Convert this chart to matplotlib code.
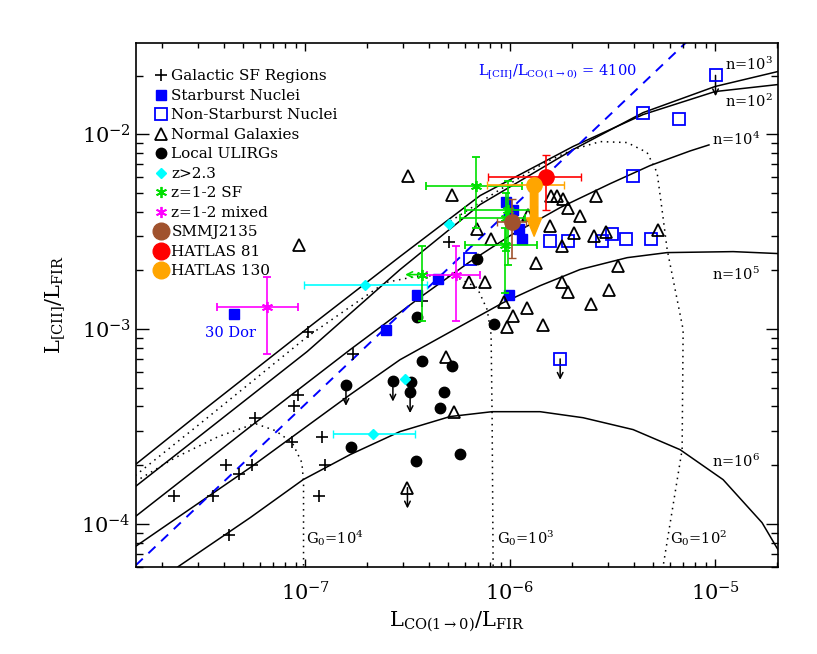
import numpy as np
import matplotlib
matplotlib.use("Agg")
import matplotlib.pyplot as plt
from matplotlib.lines import Line2D

plt.rcParams["font.family"] = ["DejaVu Serif"]
plt.rcParams["mathtext.fontset"] = "dejavuserif"

# everything below is log10 of the ratio

# Galactic SF regions
sf_logx = [-6.987, -6.769, -7.033, -7.054, -7.244, -7.062, -6.919, -7.387, -7.260,
           -7.322, -6.902, -7.640, -7.450, -6.932, -7.374, -6.431, -6.300]
sf_logy = [-3.017, -3.127, -3.337, -3.398, -3.457, -3.582, -3.555, -3.700, -3.700,
           -3.745, -3.700, -3.856, -3.856, -3.856, -4.058, -2.855, -2.553]

# starburst nuclei (first one is 30 Dor)
sb_logx = [-7.346, -6.606, -6.455, -6.353, -6.008, -6.020, -5.987, -5.956, -5.940]
sb_logy = [-2.921, -3.004, -2.827, -2.746, -2.824, -2.350, -2.387, -2.485, -2.538]

# non-starburst nuclei
nsb_logx = [-4.998, -5.350, -5.174, -5.399, -5.805, -5.716, -5.553, -5.504, -5.436,
            -5.314, -6.195, -5.756]
nsb_logy = [-1.698, -1.891, -1.921, -2.213, -2.550, -2.550, -2.550, -2.511, -2.538,
            -2.538, -2.639, -3.154]
nsb_limit = [True, False, False, False, False, False, False, False, False, False, False, True]

# normal galaxies
ng_logx = [-6.496, -6.284, -7.029, -6.162, -6.094, -5.911, -5.801, -5.772, -5.740,
           -5.716, -5.659, -5.580, -5.805, -5.688, -5.589, -5.533, -5.281, -5.745,
           -5.873, -5.472, -6.200, -6.122, -5.748, -5.716, -5.520, -6.029, -5.919,
           -5.984, -6.013, -5.838, -5.605, -6.314, -6.273, -6.501]
ng_logy = [-2.213, -2.310, -2.567, -2.486, -2.538, -2.413, -2.319, -2.319, -2.332,
           -2.379, -2.422, -2.319, -2.469, -2.507, -2.524, -2.504, -2.490, -2.576,
           -2.659, -2.678, -2.761, -2.761, -2.761, -2.810, -2.802, -2.863, -2.892,
           -2.935, -2.992, -2.978, -2.872, -3.146, -3.428, -3.815]
ng_limit = [False] * 33 + [True]

# local ULIRGs
ul_logx = [-6.452, -6.431, -6.284, -6.801, -6.572, -6.486, -6.488, -6.323, -6.342,
           -6.774, -6.460, -6.244, -6.077, -6.160]
ul_logy = [-2.940, -3.166, -3.188, -3.288, -3.266, -3.272, -3.325, -3.326, -3.406,
           -3.606, -3.680, -3.643, -2.976, -2.639]
ul_limit = [False, False, False, True, True, False, True, False, False,
            False, False, False, False, False]

# z > 2.3
hz_logx = [-6.707, -6.667, -6.512, -6.298]
hz_logy = [-2.772, -3.538, -3.257, -2.461]
hz_xlo = [-7.008, -6.862, -6.512, -6.298]
hz_xhi = [-6.406, -6.463, -6.512, -6.298]

# z = 1-2 star forming
sfz_logx = [-6.167, -6.010, -6.020, -6.024, -6.431]
sfz_logy = [-2.268, -2.387, -2.428, -2.567, -2.721]
sfz_xlo = [-6.410, -6.220, -6.244, -6.220, -6.431]
sfz_xhi = [-5.943, -5.868, -5.927, -5.868, -6.431]
sfz_ylo = [-2.480, -2.670, -2.600, -2.814, -2.961]
sfz_yhi = [-2.117, -2.242, -2.300, -2.480, -2.576]

# z = 1-2 mixed
mx_logx = [-7.187, -6.265]
mx_logy = [-2.887, -2.721]
mx_xlo = [-7.428, -6.406]
mx_xhi = [-7.033, -6.146]
mx_ylo = [-3.127, -2.961]
mx_yhi = [-2.735, -2.572]

# SMMJ2135, HATLAS 81, HATLAS 130
smm = dict(x=-5.992, y=-2.452, xlo=-6.062, xhi=-5.922, ylo=-2.635, yhi=-2.332)
h81 = dict(x=-5.826, y=-2.221, xlo=-6.106, xhi=-5.655, ylo=-2.391, yhi=-2.105)
h130 = dict(x=-5.883, y=-2.262, xlo=-6.111, xhi=-5.735, ytip=-2.524)

# PDR model tracks: constant density
n2_logx = [-7.829, -7.512, -6.990, -6.537, -6.146, -5.693, -5.351, -5.000, -4.693]
n2_logy = [-3.697, -3.430, -2.998, -2.628, -2.315, -2.063, -1.899, -1.781, -1.745]
n3_logx = [-7.829, -7.512, -6.990, -6.537, -6.146, -5.693, -5.351, -5.000, -4.693]
n3_logy = [-3.810, -3.548, -3.116, -2.695, -2.361, -2.079, -1.889, -1.755, -1.678]
n4_logx = [-7.829, -7.268, -6.780, -6.434, -6.195, -6.000, -5.756, -5.512, -5.317, -5.122, -5.030]
n4_logy = [-3.964, -3.502, -3.106, -2.834, -2.654, -2.521, -2.377, -2.254, -2.161, -2.086, -2.055]
n5_logx = [-7.829, -7.268, -6.780, -6.537, -6.220, -6.034, -5.854, -5.659, -5.429, -5.234, -4.912, -4.693]
n5_logy = [-4.118, -3.712, -3.337, -3.158, -2.973, -2.865, -2.778, -2.695, -2.634, -2.608, -2.603, -2.613]
n6_logx = [-7.620, -7.268, -7.010, -6.780, -6.537, -6.293, -6.088, -5.854, -5.644, -5.400,
           -5.171, -4.961, -4.771, -4.693]
n6_logy = [-4.221, -3.969, -3.774, -3.645, -3.527, -3.450, -3.425, -3.425, -3.456, -3.517,
           -3.620, -3.774, -3.995, -4.134]

# constant G0
g2_logx = [-6.317, -6.049, -5.829, -5.693, -5.561, -5.429, -5.332, -5.283, -5.259, -5.234,
           -5.156, -5.161, -5.254]
g2_logy = [-2.464, -2.284, -2.145, -2.079, -2.038, -2.043, -2.094, -2.197, -2.387, -2.592,
           -3.004, -3.620, -4.221]
g3_logx = [-7.829, -7.512, -6.990, -6.610, -6.439, -6.268, -6.161, -6.112, -6.093, -6.088, -6.083]
g3_logy = [-3.753, -3.486, -3.040, -2.762, -2.726, -2.731, -2.788, -2.901, -3.029, -3.450, -4.221]
g4_logx = [-7.829, -7.634, -7.424, -7.244, -7.146, -7.063, -7.016, -7.008, -7.008]
g4_logy = [-3.784, -3.661, -3.553, -3.486, -3.522, -3.584, -3.687, -3.789, -4.221]

cii_co_ratio = 4100
xlim = (1.49e-8, 2.02e-5)
ylim = (5.97e-5, 2.95e-2)


def lin(a):
    return 10.0 ** np.asarray(a, dtype=float)


def err(c, lo, hi):
    c, lo, hi = lin(c), lin(lo), lin(hi)
    return np.vstack([c - lo, hi - c])


fig = plt.figure(figsize=(8.17, 6.54), dpi=100)
ax = fig.add_axes([0.1661, 0.1326, 0.7858, 0.8021])
ax.set_xscale("log")
ax.set_yscale("log")

# model tracks
for lx, ly in [(n2_logx, n2_logy), (n3_logx, n3_logy), (n4_logx, n4_logy),
               (n5_logx, n5_logy), (n6_logx, n6_logy)]:
    ax.plot(lin(lx), lin(ly), color="k", lw=1.1, zorder=1)
for lx, ly in [(g2_logx, g2_logy), (g3_logx, g3_logy), (g4_logx, g4_logy)]:
    ax.plot(lin(lx), lin(ly), color="k", lw=1.1, ls=(0, (1, 3)), zorder=1)

xx = np.array(xlim)
ax.plot(xx, cii_co_ratio * xx, color="#0000ff", lw=1.4, ls=(0, (5, 4)), zorder=1)

# points
ax.plot(lin(sf_logx), lin(sf_logy), ls="none", marker="+", color="k", ms=8, mew=1.2, zorder=3)
ax.plot(lin(sb_logx), lin(sb_logy), ls="none", marker="s", color="#0000ff", ms=7, zorder=3)
ax.plot(lin(nsb_logx), lin(nsb_logy), ls="none", marker="s", mfc="none", mec="#0000ff",
        ms=8, mew=1.3, zorder=3)
ax.plot(lin(ng_logx), lin(ng_logy), ls="none", marker="^", mfc="none", mec="k",
        ms=8.5, mew=1.3, zorder=3)
ax.plot(lin(ul_logx), lin(ul_logy), ls="none", marker="o", color="k", ms=7.5, zorder=3)


def down_arrows(lx, ly, flags, color="k"):
    for x, y, f in zip(lx, ly, flags):
        if f:
            ax.annotate("", xy=(10 ** x, 10 ** y), xytext=(0, -15), textcoords="offset points",
                        arrowprops=dict(arrowstyle="<-", color=color, lw=1.1,
                                        shrinkA=0, shrinkB=0), zorder=2)


down_arrows(nsb_logx, nsb_logy, nsb_limit)
down_arrows(ng_logx, ng_logy, ng_limit)
down_arrows(ul_logx, ul_logy, ul_limit)

# high-z samples with error bars
ax.errorbar(lin(hz_logx), lin(hz_logy), xerr=err(hz_logx, hz_xlo, hz_xhi), ls="none",
            marker="D", color="#00ffff", ms=5, capsize=3, elinewidth=1.2, zorder=4)
ax.errorbar(lin(sfz_logx[:4]), lin(sfz_logy[:4]),
            xerr=err(sfz_logx[:4], sfz_xlo[:4], sfz_xhi[:4]),
            yerr=err(sfz_logy[:4], sfz_ylo[:4], sfz_yhi[:4]), ls="none",
            marker=(6, 2, 0), color="#00e000", ms=8, mew=1.3, capsize=3, elinewidth=1.2, zorder=4)
ax.errorbar(lin(sfz_logx[4:]), lin(sfz_logy[4:]),
            yerr=err(sfz_logy[4:], sfz_ylo[4:], sfz_yhi[4:]), ls="none",
            marker=(6, 2, 0), color="#00e000", ms=8, mew=1.3, capsize=3, elinewidth=1.2, zorder=4)
ax.annotate("", xy=(10 ** sfz_logx[4], 10 ** sfz_logy[4]), xytext=(-12, 0),
            textcoords="offset points",
            arrowprops=dict(arrowstyle="<-", color="#00e000", lw=1.2, shrinkA=0, shrinkB=0))
ax.errorbar(lin(mx_logx), lin(mx_logy), xerr=err(mx_logx, mx_xlo, mx_xhi),
            yerr=err(mx_logy, mx_ylo, mx_yhi), ls="none", marker=(6, 2, 0), color="#ff00ff",
            ms=8, mew=1.3, capsize=3, elinewidth=1.2, zorder=4)

for d, col in [(smm, "#a0522d"), (h81, "#ff0000")]:
    ax.errorbar([10 ** d["x"]], [10 ** d["y"]], xerr=err([d["x"]], [d["xlo"]], [d["xhi"]]),
                yerr=err([d["y"]], [d["ylo"]], [d["yhi"]]), ls="none", marker="o", color=col,
                ms=11, capsize=3, elinewidth=1.2, zorder=5)
ax.errorbar([10 ** h130["x"]], [10 ** h130["y"]],
            xerr=err([h130["x"]], [h130["xlo"]], [h130["xhi"]]), ls="none", marker="o",
            color="#ffa500", ms=11, capsize=3, elinewidth=1.2, zorder=5)
ax.annotate("", xy=(10 ** h130["x"], 10 ** h130["ytip"]), xytext=(10 ** h130["x"], 10 ** h130["y"]),
            arrowprops=dict(arrowstyle="simple,head_width=0.9,head_length=1.1,tail_width=0.45",
                            color="#ffa500", shrinkA=0, shrinkB=0, mutation_scale=12), zorder=5)

# labels inside the plot
lab = dict(fontsize=10.5, ha="left", va="center")
ax.text(10 ** -4.951, 10 ** -1.643, r"n=10$^3$", **lab)
ax.text(10 ** -4.951, 10 ** -1.831, r"n=10$^2$", **lab)
ax.text(10 ** -5.015, 10 ** -2.028, r"n=10$^4$", **lab)
ax.text(10 ** -5.016, 10 ** -2.721, r"n=10$^5$", **lab)
ax.text(10 ** -5.016, 10 ** -3.680, r"n=10$^6$", **lab)
ax.text(10 ** -6.995, 10 ** -4.073, r"G$_0$=10$^4$", **lab)
ax.text(10 ** -6.065, 10 ** -4.073, r"G$_0$=10$^3$", **lab)
ax.text(10 ** -5.220, 10 ** -4.073, r"G$_0$=10$^2$", **lab)
ax.text(10 ** -6.155, 10 ** -1.677, r"L$_{\rm [CII]}$/L$_{\rm CO(1\rightarrow0)}$ = 4100",
        color="#0000ff", **lab)
ax.text(10 ** -7.488, 10 ** -3.019, "30 Dor", color="#0000ff", **lab)

handles = [
    Line2D([], [], ls="none", marker="+", color="k", ms=8, mew=1.2),
    Line2D([], [], ls="none", marker="s", color="#0000ff", ms=7),
    Line2D([], [], ls="none", marker="s", mfc="none", mec="#0000ff", ms=8, mew=1.3),
    Line2D([], [], ls="none", marker="^", mfc="none", mec="k", ms=8.5, mew=1.3),
    Line2D([], [], ls="none", marker="o", color="k", ms=7.5),
    Line2D([], [], ls="none", marker="D", color="#00ffff", ms=5),
    Line2D([], [], ls="none", marker=(6, 2, 0), color="#00e000", ms=8, mew=1.3),
    Line2D([], [], ls="none", marker=(6, 2, 0), color="#ff00ff", ms=8, mew=1.3),
    Line2D([], [], ls="none", marker="o", color="#a0522d", ms=12),
    Line2D([], [], ls="none", marker="o", color="#ff0000", ms=12),
    Line2D([], [], ls="none", marker="o", color="#ffa500", ms=12),
]
labels = ["Galactic SF Regions", "Starburst Nuclei", "Non-Starburst Nuclei", "Normal Galaxies",
          "Local ULIRGs", "z>2.3", "z=1-2 SF", "z=1-2 mixed", "SMMJ2135", "HATLAS 81",
          "HATLAS 130"]
ax.legend(handles, labels, loc="upper left", bbox_to_anchor=(0.027, 0.949), frameon=False,
          fontsize=11, handlelength=1.0, handletextpad=0.2, labelspacing=0.36,
          borderaxespad=0, borderpad=0)

ax.set_xlim(*xlim)
ax.set_ylim(*ylim)
ax.tick_params(which="both", direction="in", top=True, right=True, labelsize=15)
ax.tick_params(axis="x", which="major", length=6, width=1)
ax.tick_params(axis="x", which="minor", length=3.5, width=1)
ax.tick_params(axis="y", which="major", length=9, width=1)
ax.tick_params(axis="y", which="minor", length=5, width=1)
ax.tick_params(axis="x", pad=10)
for s in ax.spines.values():
    s.set_linewidth(1.2)

ax.set_xlabel(r"L$_{\rm CO(1\rightarrow0)}$/L$_{\rm FIR}$", fontsize=15, labelpad=4)
ax.set_ylabel(r"L$_{\rm [CII]}$/L$_{\rm FIR}$", fontsize=15, labelpad=10)

fig.savefig("out.png", dpi=100)
